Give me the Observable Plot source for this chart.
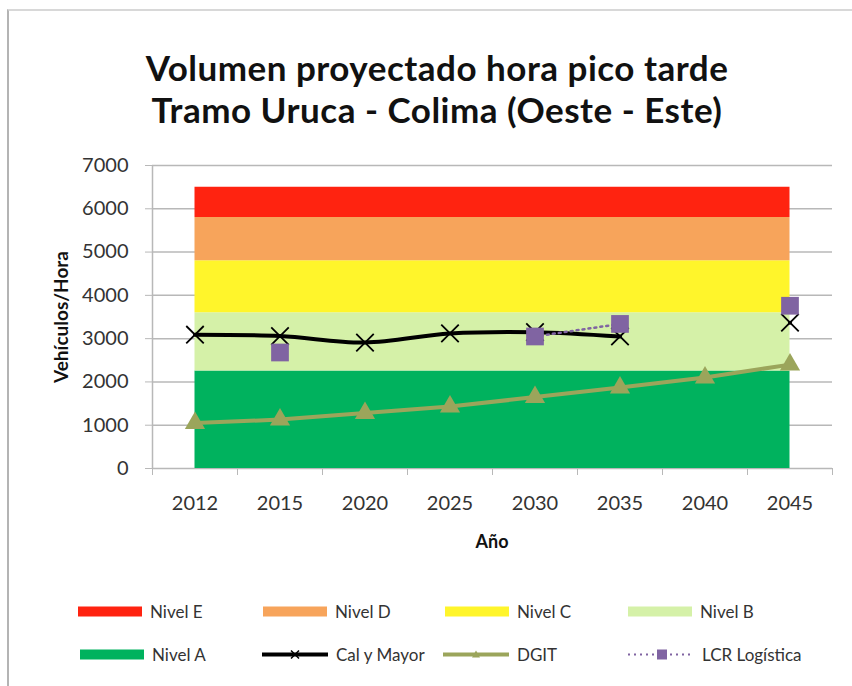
<!DOCTYPE html>
<html>
<head>
<meta charset="utf-8">
<script src="https://cdn.jsdelivr.net/npm/d3@7"></script>
<script src="https://cdn.jsdelivr.net/npm/@observablehq/plot@0.6"></script>
<style>
  html, body { margin: 0; padding: 0; background: #fff; }
  #wrap { position: relative; width: 852px; height: 686px; overflow: hidden; font-family: Lato, "Open Sans", sans-serif; }
  #border { position: absolute; left: 7px; top: 9px; width: 860px; height: 700px; border-left: 2px solid #b4b4b4; border-top: 2px solid #d8d8d8; }
  #title { position: absolute; left: 0; width: 874px; top: 46px; text-align: center; font-weight: bold; font-size: 35px; line-height: 42px; letter-spacing: 0.5px; color: #111; }
  #chart { position: absolute; left: 0; top: 140px; }
  #ylab { position: absolute; left: 60px; top: 317px; transform: translate(-50%, -50%) rotate(-90deg); font-weight: bold; font-size: 19px; color: #111; white-space: nowrap; }
  #xlab { position: absolute; left: 492px; top: 541px; transform: translate(-50%, -50%); font-weight: bold; font-size: 18px; color: #111; }
  .leg { position: absolute; display: flex; align-items: center; font-size: 17px; color: #333; transform: translateY(-50%); white-space: nowrap; }
  .leg svg { margin-right: 8px; }
</style>
</head>
<body>
<div id="wrap">
  <div id="border"></div>
  <div id="title">Volumen proyectado hora pico tarde<br>Tramo Uruca - Colima (Oeste - Este)</div>
  <div id="chart"></div>
  <div id="ylab">Vehículos/Hora</div>
  <div id="xlab">Año</div>
  <div id="legend"></div>
</div>
<script>
// ---- data ----
const years = ["2012", "2015", "2020", "2025", "2030", "2035", "2040", "2045"];
const calYMayor = [3090, 3060, 2910, 3120, 3150, 3050, null, 3370];
const dgit = [1050, 1130, 1280, 1430, 1650, 1870, 2100, 2400];
const lcr = [null, 2680, null, null, 3050, 3340, null, 3760];
const levelNames = ["Nivel A", "Nivel B", "Nivel C", "Nivel D", "Nivel E"];
const levelLower = [0, 2250, 3600, 4800, 5800];
const levelUpper = [2250, 3600, 4800, 5800, 6500];
const levelColors = ["#00B25E", "#D5F1A8", "#FFF52B", "#F7A45B", "#FF2310"];
const yTicks = [0, 1000, 2000, 3000, 4000, 5000, 6000, 7000];

const seriesColors = { cal: "#000000", dgit: "#9BA55B", lcr: "#8064A2" };

const idx = years.map((_, i) => i);
const boundaries = d3.range(-0.5, years.length, 1);

const marks = [
  Plot.gridY(yTicks, { stroke: "#b8b8b8", strokeOpacity: 1, strokeWidth: 1.5 }),
  ...levelNames.map((name, k) =>
    Plot.areaY(idx, { x: i => i, y1: () => levelLower[k], y2: () => levelUpper[k], fill: levelColors[k] })
  ),
  Plot.ruleX([-0.5], { stroke: "#b8b8b8", strokeWidth: 1.5 }),
  Plot.axisY(yTicks, { tickSize: 7, tickPadding: 17, stroke: "#b8b8b8", fill: "#333", fontSize: 20, label: null, tickFormat: d => String(d) }),
  Plot.axisX(boundaries, { tickSize: 7, tickFormat: () => "", stroke: "#b8b8b8", label: null }),
  Plot.axisX(idx, { tickSize: 0, tickPadding: 27, tickFormat: i => years[i], fill: "#333", fontSize: 20, label: null }),
  // Cal y Mayor
  Plot.line(idx, { x: i => i, y: i => calYMayor[i], stroke: seriesColors.cal, strokeWidth: 4, curve: "catmull-rom" }),
  Plot.dot(idx.filter(i => calYMayor[i] != null), { x: i => i, y: i => calYMayor[i], symbol: "times", r: 8, stroke: seriesColors.cal, strokeWidth: 1.8 }),
  // DGIT
  Plot.line(idx, { x: i => i, y: i => dgit[i], stroke: seriesColors.dgit, strokeWidth: 4 }),
  Plot.dot(idx, { x: i => i, y: i => dgit[i], symbol: "triangle", r: 7.5, fill: seriesColors.dgit, stroke: "none" }),
  // LCR Logística
  Plot.line(idx, { x: i => i, y: i => lcr[i], stroke: seriesColors.lcr, strokeWidth: 2.5, strokeDasharray: "2,4" }),
  Plot.dot(idx.filter(i => lcr[i] != null), { x: i => i, y: i => lcr[i], symbol: "square", r: 10, fill: seriesColors.lcr, stroke: "none" })
];

const plot = Plot.plot({
  width: 852,
  height: 390,
  marginTop: 25,
  marginBottom: 62,
  marginLeft: 152,
  marginRight: 20,
  x: { domain: [-0.5, years.length - 0.5], axis: null },
  y: { domain: [0, 7000], axis: null },
  style: { fontFamily: "Lato, 'Open Sans', sans-serif", fontSize: "20px", background: "transparent", overflow: "visible" },
  marks
});
document.getElementById("chart").appendChild(plot);

// ---- legend ----
const legendItems = [
  { label: "Nivel E", type: "swatch", color: levelColors[4], x: 78, y: 611 },
  { label: "Nivel D", type: "swatch", color: levelColors[3], x: 263, y: 611 },
  { label: "Nivel C", type: "swatch", color: levelColors[2], x: 445, y: 611 },
  { label: "Nivel B", type: "swatch", color: levelColors[1], x: 628, y: 611 },
  { label: "Nivel A", type: "swatch", color: levelColors[0], x: 80, y: 654 },
  { label: "Cal y Mayor", type: "cal", color: seriesColors.cal, x: 262, y: 654 },
  { label: "DGIT", type: "dgit", color: seriesColors.dgit, x: 443, y: 654 },
  { label: "LCR Logística", type: "lcr", color: seriesColors.lcr, x: 628, y: 654 }
];
const legend = document.getElementById("legend");
for (const it of legendItems) {
  const div = document.createElement("div");
  div.className = "leg";
  div.style.left = it.x + "px";
  div.style.top = it.y + "px";
  let svg;
  if (it.type === "swatch") {
    svg = `<svg width="64" height="12"><rect x="0" y="1" width="64" height="10" fill="${it.color}"/></svg>`;
  } else if (it.type === "cal") {
    svg = `<svg width="66" height="14"><line x1="0" y1="7" x2="66" y2="7" stroke="${it.color}" stroke-width="4"/><path d="M29,3L37,11M37,3L29,11" stroke="${it.color}" stroke-width="1.5"/></svg>`;
  } else if (it.type === "dgit") {
    svg = `<svg width="66" height="14"><line x1="0" y1="7" x2="66" y2="7" stroke="${it.color}" stroke-width="4"/><path d="M33,3L37,10L29,10Z" fill="${it.color}"/></svg>`;
  } else {
    svg = `<svg width="66" height="14"><line x1="0" y1="7" x2="66" y2="7" stroke="${it.color}" stroke-width="2" stroke-dasharray="2,4"/><rect x="29" y="2" width="10" height="10" fill="${it.color}"/></svg>`;
  }
  div.innerHTML = svg + `<span>${it.label}</span>`;
  legend.appendChild(div);
}
</script>
</body>
</html>
